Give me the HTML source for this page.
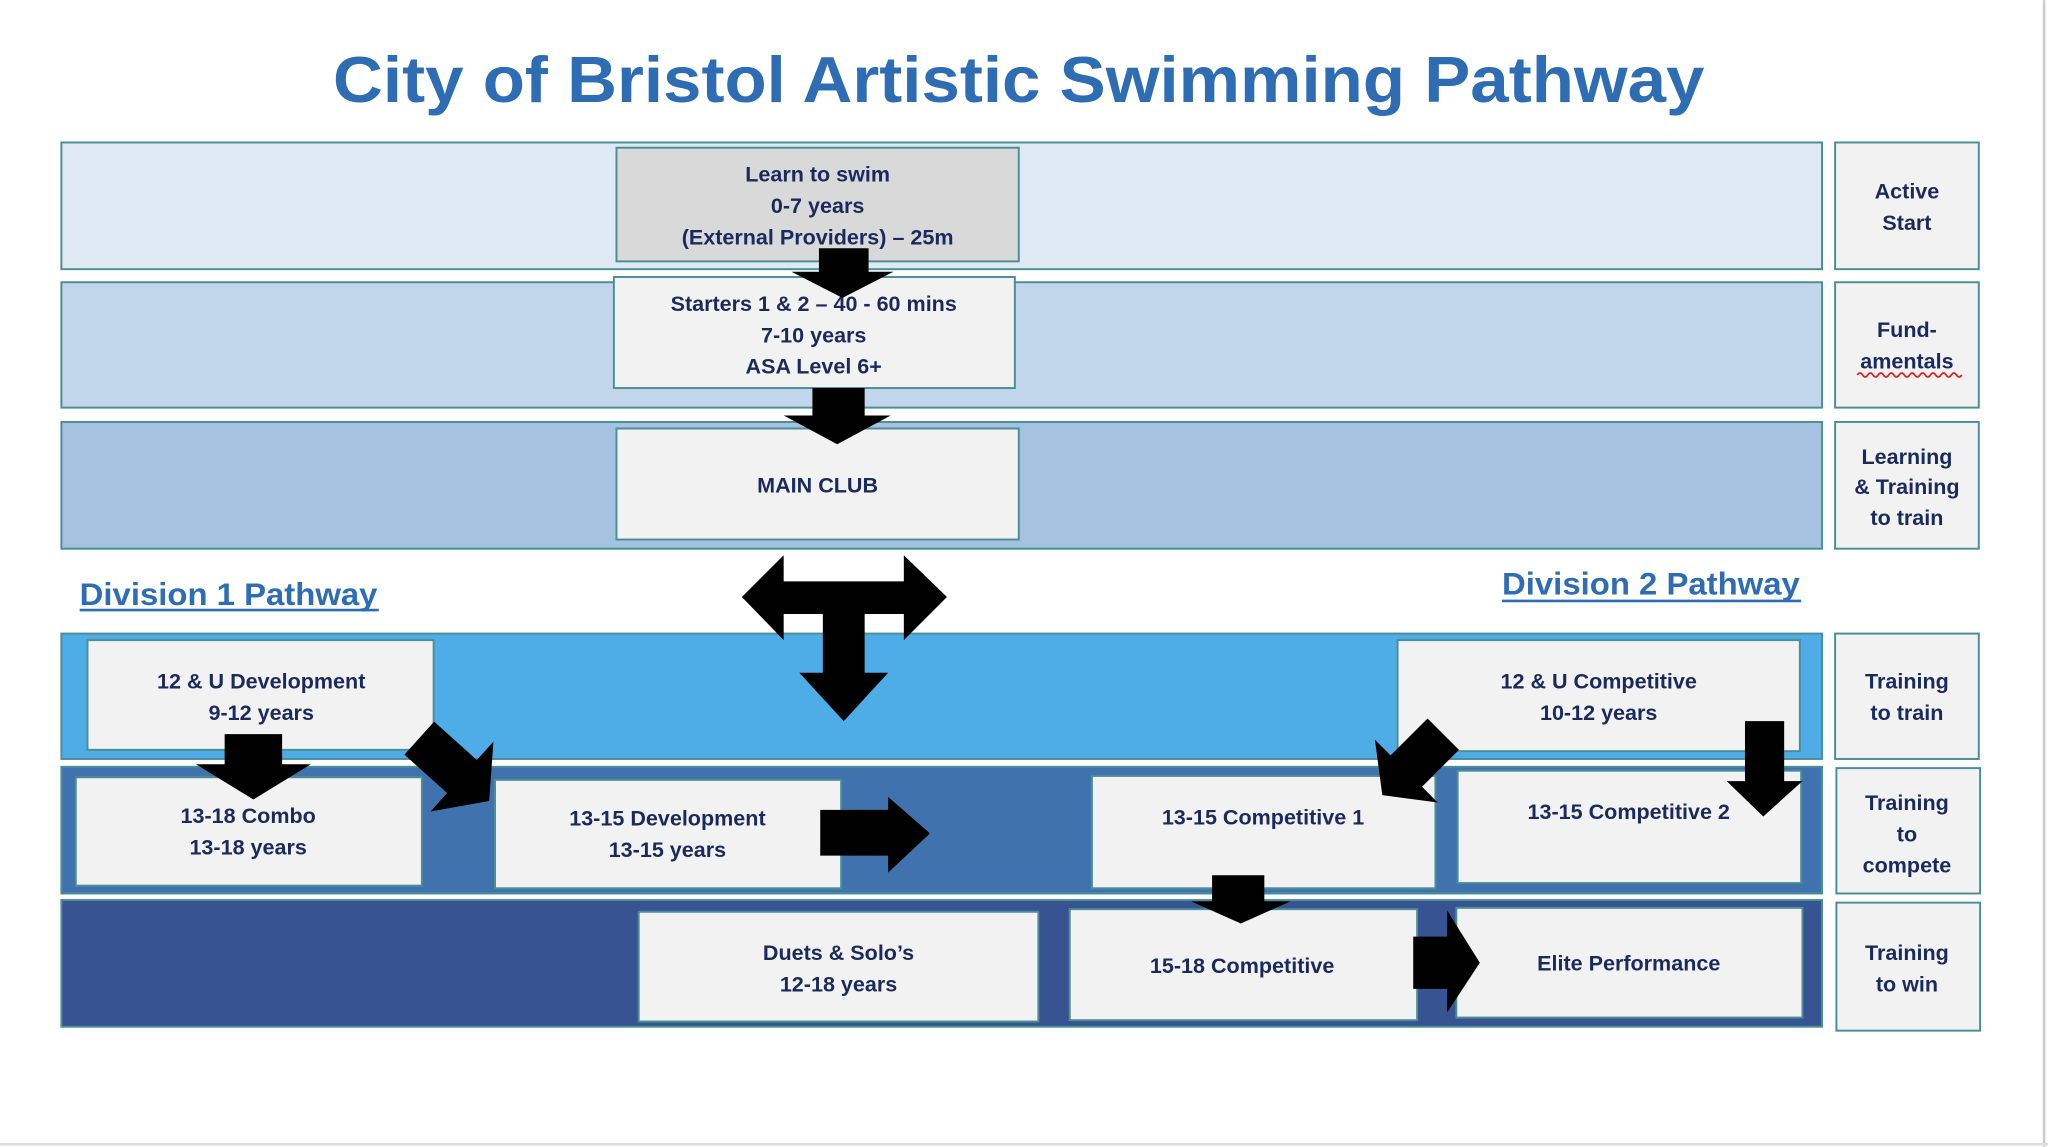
<!DOCTYPE html>
<html><head><meta charset="utf-8"><style>
html,body{margin:0;padding:0;background:#fff;}
svg{display:block;}
text{font-family:"Liberation Sans",sans-serif;font-weight:bold;fill:#1b2a5c;font-size:16.5px;text-anchor:middle;}
</style></head><body>
<svg width="2048" height="1147" viewBox="0 0 1568 878" xmlns="http://www.w3.org/2000/svg">
<defs>
<style>.b{stroke:#4a8f95;stroke-width:1.5}.bx{fill:#f2f2f2;stroke:#4a8f95;stroke-width:1.5}</style>
</defs>
<rect x="0" y="0" width="1568" height="878" fill="#fff"/>
<line x1="1565" y1="0" x2="1565" y2="878" stroke="#ccc" stroke-width="2"/>
<line x1="0" y1="876" x2="1568" y2="876" stroke="#ddd" stroke-width="2"/>
<text x="780" y="78" style="font-size:50px;fill:#2e6db4" textLength="1050" lengthAdjust="spacingAndGlyphs">City of Bristol Artistic Swimming Pathway</text>

<rect class="b" x="47" y="109" width="1348" height="97" fill="#dfe9f3"/>
<rect class="b" x="47" y="216" width="1348" height="96" fill="#c1d6ea"/>
<rect class="b" x="47" y="323" width="1348" height="97" fill="#a6c2e1"/>
<rect class="b" x="47" y="485" width="1348" height="96" fill="#4eace7"/>
<rect class="b" x="47" y="587" width="1348" height="97" fill="#4072ae"/>
<rect class="b" x="47" y="689" width="1348" height="97" fill="#385391"/>

<rect class="bx" x="1405" y="109" width="110" height="97"/>
<rect class="bx" x="1405" y="216" width="110" height="96"/>
<rect class="bx" x="1405" y="323" width="110" height="97"/>
<rect class="bx" x="1405" y="485" width="110" height="96"/>
<rect class="bx" x="1406" y="588" width="110" height="96"/>
<rect class="bx" x="1406" y="691" width="110" height="98"/>
<text x="1460" y="152">Active</text><text x="1460" y="176">Start</text>
<text x="1460" y="258">Fund-</text><text x="1460" y="282">amentals</text>
<path d="M1422 287 q2 -3 4 0 t4 0 t4 0 t4 0 t4 0 t4 0 t4 0 t4 0 t4 0 t4 0 t4 0 t4 0 t4 0 t4 0 t4 0 t4 0 t4 0 t4 0 t4 0 t4 0" stroke="#d22" fill="none" stroke-width="1.3"/>
<text x="1460" y="355">Learning</text><text x="1460" y="378">&amp; Training</text><text x="1460" y="402">to train</text>
<text x="1460" y="527">Training</text><text x="1460" y="551">to train</text>
<text x="1460" y="620">Training</text><text x="1460" y="644">to</text><text x="1460" y="668">compete</text>
<text x="1460" y="735">Training</text><text x="1460" y="759">to win</text>

<text x="175" y="463" style="font-size:24px;fill:#2e6db4" textLength="228" lengthAdjust="spacingAndGlyphs">Division 1 Pathway</text>
<line x1="61" y1="467" x2="290" y2="467" stroke="#2e6db4" stroke-width="2"/>
<text x="1264" y="455" style="font-size:24px;fill:#2e6db4" textLength="228" lengthAdjust="spacingAndGlyphs">Division 2 Pathway</text>
<line x1="1150" y1="460" x2="1379" y2="460" stroke="#2e6db4" stroke-width="2"/>

<rect x="472" y="113" width="308" height="87" fill="#d9d9d9" stroke="#4a8f95" stroke-width="1.5"/>
<text x="626" y="139">Learn to swim</text><text x="626" y="163">0-7 years</text><text x="626" y="187">(External Providers) – 25m</text>
<rect class="bx" x="470" y="212" width="307" height="85"/>
<text x="623" y="238">Starters 1 &amp; 2 – 40 - 60 mins</text><text x="623" y="262">7-10 years</text><text x="623" y="286">ASA Level 6+</text>
<rect class="bx" x="472" y="328" width="308" height="85"/>
<text x="626" y="377">MAIN CLUB</text>

<rect class="bx" x="67" y="490" width="265" height="84"/>
<text x="200" y="527">12 &amp; U Development</text><text x="200" y="551">9-12 years</text>
<rect class="bx" x="58" y="595" width="265" height="83"/>
<text x="190" y="630">13-18 Combo</text><text x="190" y="654">13-18 years</text>
<rect class="bx" x="379" y="597" width="265" height="83"/>
<text x="511" y="632">13-15 Development</text><text x="511" y="656">13-15 years</text>
<rect class="bx" x="1070" y="490" width="308" height="85"/>
<text x="1224" y="527">12 &amp; U Competitive</text><text x="1224" y="551">10-12 years</text>
<rect class="bx" x="836" y="594" width="263" height="86"/>
<text x="967" y="631">13-15 Competitive 1</text>
<rect class="bx" x="1116" y="590" width="263" height="86"/>
<text x="1247" y="627">13-15 Competitive 2</text>
<rect class="bx" x="489" y="698" width="306" height="84"/>
<text x="642" y="735">Duets &amp; Solo’s</text><text x="642" y="759">12-18 years</text>
<rect class="bx" x="819" y="696" width="266" height="85"/>
<text x="951" y="745">15-18 Competitive</text>
<rect class="bx" x="1115" y="695" width="265" height="84"/>
<text x="1247" y="743">Elite Performance</text>

<g fill="#000">
<polygon points="627,190 665,190 665,208 684,208 645,228 606,208 627,208"/>
<polygon points="622,297 662,297 662,318 682,318 641,340 600,318 622,318"/>
<polygon points="568,457 600,425 600,445 692,445 692,425 725,457 692,490 692,470 662,470 662,515 680,515 646,552 612,515 630,515 630,470 600,470 600,490"/>
<polygon points="172,562 216,562 216,585 238,585 194,612 150,585 172,585"/>
<g transform="translate(321,565) rotate(42)"><polygon points="0,-17 44,-17 44,-36 72,0 44,36 44,17 0,17"/></g>
<g transform="translate(1105,562) rotate(135)"><polygon points="0,-17 40,-17 40,-34 66,0 40,34 40,17 0,17"/></g>
<polygon points="1336,552 1366,552 1366,598 1380,598 1350,625 1322,598 1336,598"/>
<polygon points="628,620 680,620 680,610 712,638 680,668 680,655 628,655"/>
<polygon points="928,670 968,670 968,690 988,690 950,707 912,690 928,690"/>
<polygon points="1082,717 1108,717 1108,697 1133,737 1108,775 1108,757 1082,757"/>
</g>
</svg>
</body></html>
